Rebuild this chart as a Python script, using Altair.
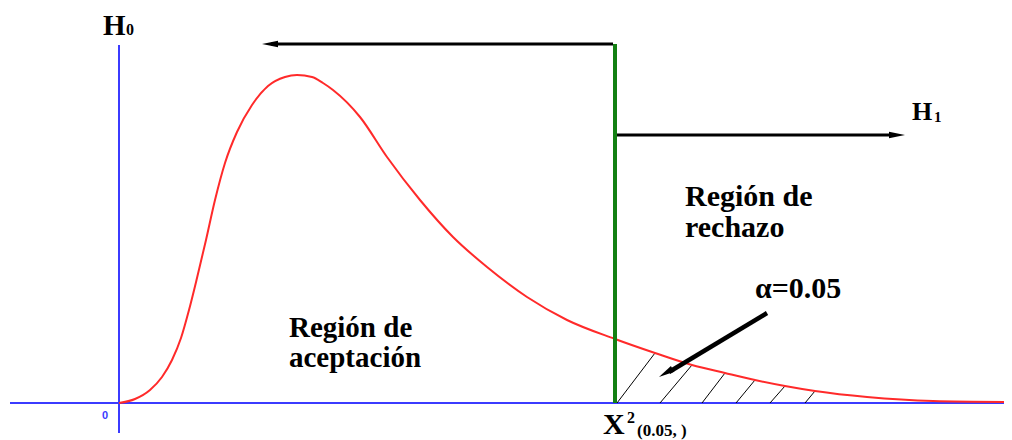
import altair as alt
import pandas as pd

# ---- data (x: chi-square units, y: density) ----
curve_x = [0, 0.4, 0.775, 1.075, 1.325, 1.55, 1.75, 1.95, 2.175, 2.4, 2.65, 2.95,
           3.325, 3.725, 4.15, 4.45, 4.825, 5.1, 5.35, 6.025, 6.7, 7.525, 8.35, 9.2,
           10.2, 11.2, 12.4, 13.4, 14.325, 15.15, 15.9, 16.65, 17.4, 18.7, 20.35, 22.325]
curve_y = [0, 0.002, 0.0065, 0.013, 0.0215, 0.0325, 0.0465, 0.0625, 0.0815, 0.1015,
           0.12, 0.1355, 0.149, 0.1585, 0.163, 0.164, 0.163, 0.16, 0.1565, 0.143,
           0.123, 0.1015, 0.083, 0.068, 0.053, 0.0415, 0.032, 0.025, 0.019, 0.015,
           0.0115, 0.0085, 0.006, 0.003, 0.001, 0.0005]

critical = 12.4

hatch_x0 = [12.45, 13.525, 14.575, 15.425, 16.275, 17.15]
hatch_x1 = [13.4, 14.325, 15.15, 15.9, 16.65, 17.4]
hatch_y1 = [0.025, 0.019, 0.015, 0.0115, 0.0085, 0.006]

# segments: axes, critical line, arrows
seg_x = [-2.725, 0, critical, 12.35, 12.45, 16.2]
seg_y = [0, 0.179, 0, 0.1795, 0.134, 0.045]
seg_x2 = [22.325, 0, critical, 3.8, 19.4, 13.75]
seg_y2 = [0, -0.015, 0.1795, 0.1795, 0.134, 0.0155]
seg_color = ["#3b3bff", "#3b3bff", "#128012", "#000000", "#000000", "#000000"]
seg_width = [2, 2, 4, 3, 3, 4.5]

# arrow heads
head_x = [3.775, 19.45, 13.67]
head_y = [0.1795, 0.134, 0.01505]
head_angle = [270, 90, 239]

# serif labels
lab_text = ["H", "0", "H", "1", "Región de", "rechazo", "α=0.05", "Región de",
            "aceptación", "X", "2", "(0.05, )"]
lab_x = [-0.4, 0.175, 19.825, 20.375, 14.15, 14.15, 15.9, 4.25, 4.25, 12.1, 12.7, 12.95]
lab_y = [0.184, 0.184, 0.1415, 0.1405, 0.0985, 0.083, 0.0525, 0.033, 0.018,
         -0.0155, -0.01, -0.0165]
lab_size = [29, 16, 26, 15, 30, 30, 30, 29, 29, 30, 16, 17]

origin_text = ["0"]
origin_x = [-0.425]
origin_y = [-0.008]

# ---- build ----
xs = alt.Scale(domain=[-2.775, 22.125], nice=False, zero=False)
ys = alt.Scale(domain=[-0.0185, 0.1975], nice=False, zero=False)

curve_df = pd.DataFrame({"x": curve_x, "y": curve_y})
hatch_df = pd.DataFrame({"x": hatch_x0, "y": [0] * len(hatch_x0), "x2": hatch_x1, "y2": hatch_y1})
seg_df = pd.DataFrame({"x": seg_x, "y": seg_y, "x2": seg_x2, "y2": seg_y2,
                       "c": seg_color, "w": seg_width})
head_df = pd.DataFrame({"x": head_x, "y": head_y, "a": head_angle})
lab_df = pd.DataFrame({"x": lab_x, "y": lab_y, "t": lab_text, "s": lab_size})
origin_df = pd.DataFrame({"x": origin_x, "y": origin_y, "t": origin_text})

X = lambda: alt.X("x:Q", scale=xs, axis=None)
Y = lambda: alt.Y("y:Q", scale=ys, axis=None)

axes_layer = alt.Chart(seg_df.iloc[:2]).mark_rule(strokeCap="butt").encode(
    x=X(), y=Y(), x2="x2:Q", y2="y2:Q",
    color=alt.Color("c:N", scale=None), strokeWidth=alt.StrokeWidth("w:Q", scale=None))

hatch = alt.Chart(hatch_df).mark_rule(color="black", strokeWidth=1).encode(
    x=X(), y=Y(), x2="x2:Q", y2="y2:Q")

curve = alt.Chart(curve_df).mark_line(color="#ff2a2a", strokeWidth=2, interpolate="monotone").encode(
    x=X(), y=Y())

segs = alt.Chart(seg_df.iloc[2:]).mark_rule(strokeCap="butt").encode(
    x=X(), y=Y(), x2="x2:Q", y2="y2:Q",
    color=alt.Color("c:N", scale=None), strokeWidth=alt.StrokeWidth("w:Q", scale=None))

heads = alt.Chart(head_df).mark_point(
    shape="M0,-1L0.42,1L-0.42,1Z", filled=True, color="black", opacity=1, size=256
).encode(x=X(), y=Y(), angle=alt.Angle("a:Q", scale=None))

labels = alt.Chart(lab_df).mark_text(
    font="Liberation Serif", fontWeight="bold", align="left", baseline="alphabetic", color="black"
).encode(x=X(), y=Y(), text="t:N", size=alt.Size("s:Q", scale=None))

origin_lab = alt.Chart(origin_df).mark_text(
    font="Liberation Sans", fontWeight="bold", align="left", baseline="alphabetic",
    color="#3b3bff", fontSize=11
).encode(x=X(), y=Y(), text="t:N")

chart = alt.layer(axes_layer, hatch, curve, segs, heads, labels, origin_lab).properties(
    width=996, height=432, padding=0, autosize=alt.AutoSizeParams(type="none")
).configure_view(stroke=None)

chart.save("out.html", embed_options={"renderer": "svg", "actions": False})
